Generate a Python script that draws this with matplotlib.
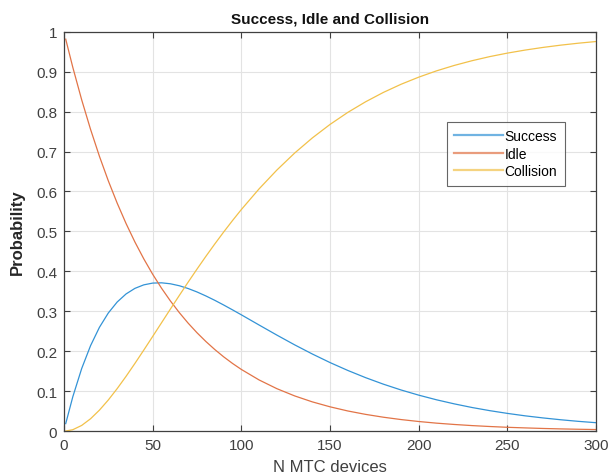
import matplotlib
matplotlib.use("Agg")
import matplotlib.pyplot as plt

plt.rcParams["font.family"] = ["Liberation Sans", "DejaVu Sans"]

# Values
n_devices = [1, 5, 10, 15, 20, 25, 30, 35, 40, 45, 50, 55, 60, 65, 70, 75, 80,
             85, 90, 95, 100, 110, 120, 130, 140, 150, 160, 170, 180, 190,
             200, 210, 220, 230, 240, 250, 260, 270, 280, 290, 300]
success = [0.0185, 0.0859, 0.1565, 0.2138, 0.2597, 0.2956, 0.3231, 0.3433,
           0.3573, 0.3661, 0.3705, 0.3712, 0.3688, 0.3639, 0.3569, 0.3483,
           0.3383, 0.3274, 0.3157, 0.3035, 0.2910, 0.2655, 0.2403, 0.2159,
           0.1929, 0.1714, 0.1517, 0.1337, 0.1174, 0.1028, 0.0898, 0.0782,
           0.0680, 0.0589, 0.0510, 0.0441, 0.0380, 0.0328, 0.0282, 0.0242,
           0.0208]
idle = [0.9815, 0.9108, 0.8295, 0.7555, 0.6881, 0.6267, 0.5708, 0.5198,
        0.4734, 0.4312, 0.3927, 0.3577, 0.3258, 0.2967, 0.2702, 0.2461,
        0.2242, 0.2042, 0.1859, 0.1693, 0.1542, 0.1279, 0.1061, 0.0880,
        0.0730, 0.0606, 0.0502, 0.0417, 0.0346, 0.0287, 0.0238, 0.0197,
        0.0164, 0.0136, 0.0113, 0.0093, 0.0078, 0.0064, 0.0053, 0.0044,
        0.0037]
collision = [0.0, 0.0033, 0.0140, 0.0307, 0.0523, 0.0777, 0.1062, 0.1369,
             0.1693, 0.2027, 0.2368, 0.2711, 0.3055, 0.3394, 0.3729, 0.4056,
             0.4375, 0.4684, 0.4983, 0.5271, 0.5548, 0.6066, 0.6536, 0.6961,
             0.7341, 0.7680, 0.7981, 0.8246, 0.8480, 0.8685, 0.8864, 0.9021,
             0.9157, 0.9275, 0.9378, 0.9466, 0.9542, 0.9608, 0.9665, 0.9714,
             0.9756]

x_ticks = [0, 50, 100, 150, 200, 250, 300]
y_ticks = [0, 0.1, 0.2, 0.3, 0.4, 0.5, 0.6, 0.7, 0.8, 0.9, 1]
y_labels = ["0", "0.1", "0.2", "0.3", "0.4", "0.5", "0.6", "0.7", "0.8", "0.9", "1"]

fig = plt.figure(figsize=(6.09, 4.77), dpi=100)
ax = fig.add_axes([0.105, 0.0943, 0.874, 0.837])

ax.plot(n_devices, success, color="#3393d6", lw=0.9, label="Success")
ax.plot(n_devices, idle, color="#e27447", lw=0.9, label="Idle")
ax.plot(n_devices, collision, color="#f2c14a", lw=0.9, label="Collision")

ax.set_xlim(0, 300)
ax.set_ylim(0, 1)
ax.set_xticks(x_ticks)
ax.set_yticks(y_ticks)
ax.set_yticklabels(y_labels)
ax.grid(color="#e3e3e3", lw=0.8)
ax.set_axisbelow(True)
ax.tick_params(direction="in", top=True, right=True, length=4,
               colors="#404040", labelsize=11, width=0.8, pad=5)
for sp in ax.spines.values():
    sp.set_color("#404040")
    sp.set_linewidth(0.9)

ax.set_title("Success, Idle and Collision", fontsize=11, fontweight="bold",
             color="#111111", pad=7)
ax.set_xlabel("N MTC devices", fontsize=12, color="#404040", labelpad=5)
ax.set_ylabel("Probability", fontsize=12, fontweight="bold",
              color="#262626", labelpad=8)

leg = ax.legend(loc="upper left", bbox_to_anchor=(0.719, 0.775), fontsize=10,
                frameon=True, fancybox=False, handlelength=3.5,
                handletextpad=0.1, borderpad=0.55, labelspacing=0.25,
                borderaxespad=0)
leg.get_frame().set_edgecolor("#404040")
leg.get_frame().set_linewidth(0.8)
for line in leg.get_lines():
    line.set_linewidth(1.6)
    line.set_alpha(0.7)

fig.savefig("out.png", dpi=100)
